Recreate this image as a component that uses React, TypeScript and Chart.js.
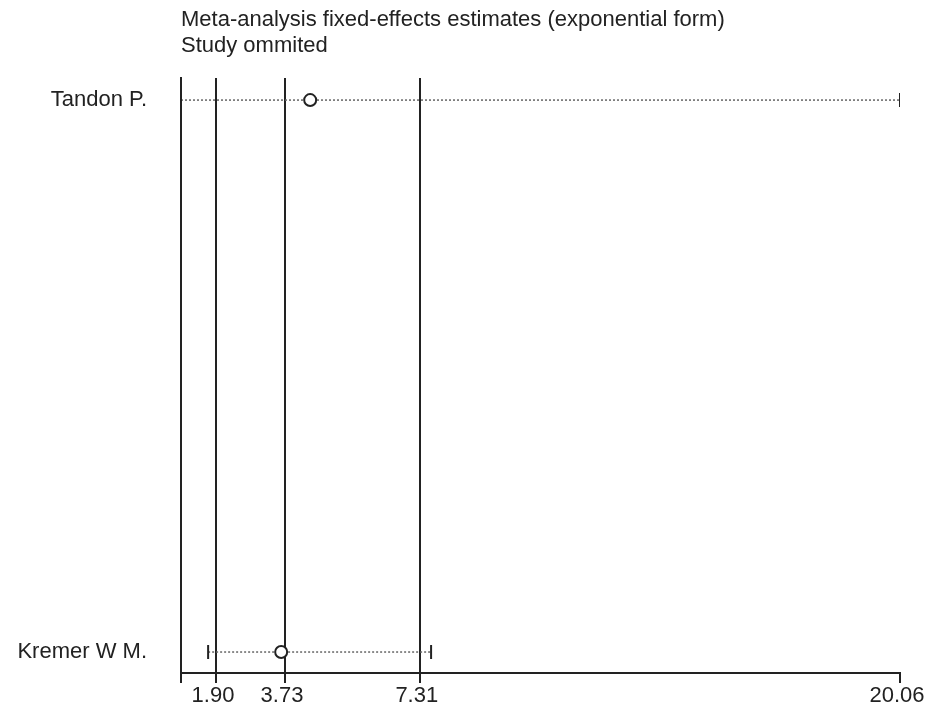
import React, { useEffect, useRef } from "react";
import { Chart, registerables } from "chart.js";

Chart.register(...registerables);

const studies = ["Tandon P.", "Kremer W M."];
const estimates = [4.40, 3.63];
const lowerCI = [0.97, 1.69];
const upperCI = [20.06, 7.61];
const xMin = 0.97;
const xMax = 20.06;
const xTickValues = [1.90, 3.73, 7.31, 20.06];
const refLines = [1.90, 3.73, 7.31];
const titleLines = ["Meta-analysis fixed-effects estimates (exponential form)", "Study ommited"];

const FONT = "'Liberation Sans', Arial, sans-serif";

const zeroPad = (scale: any) => {
  scale.paddingLeft = 0;
  scale.paddingRight = 0;
  scale.paddingTop = 0;
  scale.paddingBottom = 0;
};

export default function App() {
  const ref = useRef<HTMLCanvasElement | null>(null);

  useEffect(() => {
    if (!ref.current) return;
    const ciSets = studies.map((s, i) => ({
      type: "line" as const,
      label: s + " CI",
      data: [
        { x: lowerCI[i], y: i },
        { x: upperCI[i], y: i },
      ],
      borderColor: "#666",
      borderWidth: 1.5,
      borderDash: [2, 2],
      pointStyle: "line" as const,
      rotation: 90,
      pointRadius: 7,
      pointBorderWidth: 2,
      pointBorderColor: "#222",
      pointBackgroundColor: "#222",
      order: 2,
    }));
    const chart = new Chart(ref.current, {
      type: "scatter",
      data: {
        datasets: [
          ...ciSets,
          {
            type: "scatter" as const,
            label: "Estimate",
            data: estimates.map((v, i) => ({ x: v, y: i })),
            pointStyle: "circle",
            pointRadius: 6,
            pointBorderWidth: 2,
            pointBorderColor: "#222",
            pointBackgroundColor: "#fff",
            order: 1,
          },
        ] as any,
      },
      options: {
        animation: false,
        responsive: true,
        maintainAspectRatio: false,
        layout: { padding: { left: 0, right: 25, top: 0, bottom: 0 } },
        plugins: {
          legend: { display: false },
          tooltip: { enabled: false },
          title: {
            display: true,
            text: titleLines,
            align: "start",
            fullSize: false,
            color: "#222",
            font: { family: FONT, size: 22, weight: "normal", lineHeight: "26px" as any },
            padding: { top: 7, bottom: 19 },
          },
        },
        scales: {
          x: {
            type: "linear",
            min: xMin,
            max: xMax,
            afterBuildTicks: (scale: any) => {
              scale.ticks = [xMin, ...xTickValues].map((v) => ({ value: v }));
            },
            afterFit: (scale: any) => {
              scale.height = 37;
              zeroPad(scale);
            },
            ticks: {
              autoSkip: false,
              maxRotation: 0,
              padding: 0,
              labelOffset: -3,
              color: "#222",
              font: { family: FONT, size: 22 },
              callback: (v: any) => (v === xMin ? "" : Number(v).toFixed(2)),
            },
            grid: {
              display: true,
              drawOnChartArea: true,
              drawTicks: true,
              tickLength: 10,
              lineWidth: 2,
              tickWidth: 2,
              tickColor: "#222",
              color: (ctx: any) =>
                ctx.tick && refLines.some((r) => Math.abs(r - ctx.tick.value) < 1e-9) ? "#222" : "rgba(0,0,0,0)",
            },
            border: { display: true, color: "#222", width: 2 },
          },
          y: {
            type: "linear",
            reverse: true,
            min: -0.04,
            max: 1.038,
            afterBuildTicks: (scale: any) => {
              scale.ticks = studies.map((_, i) => ({ value: i }));
            },
            afterFit: (scale: any) => {
              scale.width = 181;
              zeroPad(scale);
            },
            ticks: {
              autoSkip: false,
              padding: 26,
              color: "#222",
              font: { family: FONT, size: 22 },
              callback: (v: any) => studies[v] ?? "",
            },
            grid: { display: false },
            border: { display: true, color: "#222", width: 2 },
          },
        },
      },
    });
    return () => chart.destroy();
  }, []);

  return (
    <div style={{ position: "fixed", left: 0, top: 0, width: 925, height: 710, background: "#fff" }}>
      <canvas ref={ref} />
    </div>
  );
}
